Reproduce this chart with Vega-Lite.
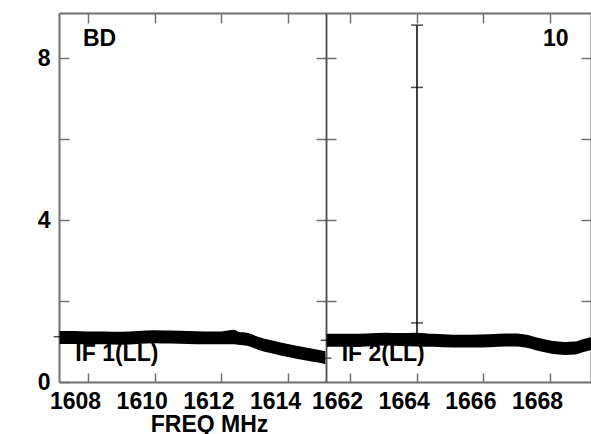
{
  "$schema": "https://vega.github.io/schema/vega-lite/v6.json",
  "background": "white",
  "padding": {"left": 37, "top": 12, "right": 0, "bottom": 0},
  "autosize": {"type": "pad"},
  "bounds": "flush",
  "spacing": 0,
  "config": {"view": {"stroke": null}},
  "datasets": {
    "bandL": [
      {"f": 1607.15, "hi": 1.26, "lo": 0.94},
      {"f": 1607.6, "hi": 1.26, "lo": 0.94},
      {"f": 1608.0, "hi": 1.25, "lo": 0.93},
      {"f": 1608.5, "hi": 1.25, "lo": 0.93},
      {"f": 1609.0, "hi": 1.24, "lo": 0.92},
      {"f": 1609.5, "hi": 1.26, "lo": 0.94},
      {"f": 1610.0, "hi": 1.28, "lo": 0.96},
      {"f": 1610.5, "hi": 1.27, "lo": 0.95},
      {"f": 1611.0, "hi": 1.26, "lo": 0.94},
      {"f": 1611.5, "hi": 1.25, "lo": 0.93},
      {"f": 1612.0, "hi": 1.25, "lo": 0.93},
      {"f": 1612.4, "hi": 1.29, "lo": 0.93},
      {"f": 1612.5, "hi": 1.24, "lo": 0.92},
      {"f": 1612.8, "hi": 1.21, "lo": 0.89},
      {"f": 1613.1, "hi": 1.12, "lo": 0.8},
      {"f": 1613.5, "hi": 1.03, "lo": 0.71},
      {"f": 1614.0, "hi": 0.94, "lo": 0.62},
      {"f": 1614.5, "hi": 0.86, "lo": 0.54},
      {"f": 1614.9, "hi": 0.8, "lo": 0.48},
      {"f": 1615.12, "hi": 0.76, "lo": 0.44}
    ],
    "bandR": [
      {"f": 1661.3, "hi": 1.19, "lo": 0.87},
      {"f": 1661.6, "hi": 1.19, "lo": 0.87},
      {"f": 1662.0, "hi": 1.19, "lo": 0.87},
      {"f": 1662.5, "hi": 1.2, "lo": 0.88},
      {"f": 1663.1, "hi": 1.22, "lo": 0.9},
      {"f": 1663.5, "hi": 1.21, "lo": 0.89},
      {"f": 1664.0, "hi": 1.22, "lo": 0.88},
      {"f": 1664.5, "hi": 1.19, "lo": 0.87},
      {"f": 1665.1, "hi": 1.17, "lo": 0.85},
      {"f": 1665.6, "hi": 1.17, "lo": 0.85},
      {"f": 1666.2, "hi": 1.18, "lo": 0.86},
      {"f": 1666.7, "hi": 1.2, "lo": 0.88},
      {"f": 1667.0, "hi": 1.2, "lo": 0.88},
      {"f": 1667.4, "hi": 1.15, "lo": 0.83},
      {"f": 1667.7, "hi": 1.08, "lo": 0.76},
      {"f": 1668.05, "hi": 1.02, "lo": 0.7},
      {"f": 1668.45, "hi": 0.99, "lo": 0.67},
      {"f": 1668.75, "hi": 1.0, "lo": 0.68},
      {"f": 1668.96, "hi": 1.05, "lo": 0.73},
      {"f": 1669.23, "hi": 1.11, "lo": 0.79}
    ],
    "capsL": [
      {"f": 1607.15, "v": 1.12},
      {"f": 1615.12, "v": 0.59}
    ],
    "capsR": [
      {"f": 1661.3, "v": 1.03},
      {"f": 1664.01, "v": 8.82},
      {"f": 1664.01, "v": 7.28},
      {"f": 1664.01, "v": 1.46}
    ],
    "spike": [
      {"f": 1664.01, "lo": 1.0, "hi": 8.82}
    ],
    "textL": [
      {"f": 1607.85, "v": 8.31, "label": "BD"},
      {"f": 1607.62, "v": 0.52, "label": "IF 1(LL)"}
    ],
    "textR": [
      {"f": 1667.79, "v": 8.31, "label": "10"},
      {"f": 1661.75, "v": 0.52, "label": "IF 2(LL)"}
    ]
  },
  "hconcat": [
    {
      "width": 267,
      "height": 369,
      "resolve": {
        "scale": {"x": "independent", "y": "independent"},
        "axis": {"x": "independent", "y": "independent"}
      },
      "layer": [
        {
          "data": {"name": "bandL"},
          "mark": {"type": "area", "color": "black", "interpolate": "monotone"},
          "encoding": {
            "x": {
              "field": "f", "type": "quantitative",
              "scale": {"domain": [1607.13, 1615.14], "nice": false, "zero": false},
              "axis": {
                "orient": "bottom", "values": [1608, 1610, 1612, 1614], "format": "d",
                "labelFont": "Liberation Sans", "labelFontWeight": "bold", "labelFontSize": 23, "labelColor": "black",
                "labelOffset": -13, "labelPadding": 35.5, "labelBaseline": "alphabetic",
                "labelFlush": false, "labelOverlap": false,
                "tickSize": -9, "tickColor": "#707070", "tickWidth": 1.5,
                "domainColor": "#707070", "domainWidth": 2, "grid": false,
                "title": "FREQ MHz", "titleFont": "Liberation Sans", "titleFontWeight": "bold",
                "titleFontSize": 23, "titleColor": "black", "titleX": 150, "titleY": 49,
                "titleAlign": "center", "titleBaseline": "alphabetic"
              }
            },
            "y": {
              "field": "hi", "type": "quantitative",
              "scale": {"domain": [0, 9.12], "nice": false, "zero": false},
              "axis": {
                "orient": "left", "values": [0, 2, 4, 6, 8], "format": "d",
                "labelExpr": "datum.value % 4 == 0 ? datum.label : ''",
                "labelFont": "Liberation Sans", "labelFontWeight": "bold", "labelFontSize": 23, "labelColor": "black",
                "labelPadding": 19, "labelOverlap": false, "labelFlush": false,
                "tickSize": -10, "tickColor": "#707070", "tickWidth": 1.5,
                "domainColor": "#707070", "domainWidth": 2, "grid": false, "title": null
              }
            },
            "y2": {"field": "lo"}
          }
        },
        {
          "data": {"name": "capsL"},
          "mark": {"type": "tick", "orient": "horizontal", "size": 12, "thickness": 1.5, "color": "black"},
          "encoding": {
            "x": {"field": "f", "type": "quantitative", "scale": {"domain": [1607.13, 1615.14], "nice": false, "zero": false}, "axis": null},
            "y": {"field": "v", "type": "quantitative", "scale": {"domain": [0, 9.12], "nice": false, "zero": false}, "axis": null}
          }
        },
        {
          "data": {"name": "textL"},
          "mark": {"type": "text", "align": "left", "baseline": "alphabetic", "font": "Liberation Sans", "fontWeight": "bold", "fontSize": 23, "color": "black"},
          "encoding": {
            "x": {
              "field": "f", "type": "quantitative",
              "scale": {"domain": [1607.13, 1615.14], "nice": false, "zero": false},
              "axis": {
                "orient": "top", "values": [1608, 1610, 1612, 1614], "labels": false,
                "tickSize": -10, "tickColor": "#707070", "tickWidth": 1.5,
                "domainColor": "#707070", "domainWidth": 2, "grid": false, "title": null
              }
            },
            "y": {
              "field": "v", "type": "quantitative",
              "scale": {"domain": [0, 9.12], "nice": false, "zero": false},
              "axis": {
                "orient": "right", "values": [2, 4, 6, 8], "labels": false,
                "tickSize": -10, "tickColor": "#707070", "tickWidth": 1.5,
                "domainColor": "#505050", "domainWidth": 1.5, "grid": false, "title": null
              }
            },
            "text": {"field": "label"}
          }
        }
      ]
    },
    {
      "width": 265,
      "height": 369,
      "resolve": {
        "scale": {"x": "independent", "y": "independent"},
        "axis": {"x": "independent", "y": "independent"}
      },
      "layer": [
        {
          "data": {"name": "bandR"},
          "mark": {"type": "area", "color": "black", "interpolate": "monotone"},
          "encoding": {
            "x": {
              "field": "f", "type": "quantitative",
              "scale": {"domain": [1661.28, 1669.23], "nice": false, "zero": false},
              "axis": {
                "orient": "bottom", "values": [1662, 1664, 1666, 1668], "format": "d",
                "labelFont": "Liberation Sans", "labelFontWeight": "bold", "labelFontSize": 23, "labelColor": "black",
                "labelOffset": -13, "labelPadding": 35.5, "labelBaseline": "alphabetic",
                "labelFlush": false, "labelOverlap": false,
                "tickSize": -9, "tickColor": "#707070", "tickWidth": 1.5,
                "domainColor": "#707070", "domainWidth": 2, "grid": false, "title": null
              }
            },
            "y": {
              "field": "hi", "type": "quantitative",
              "scale": {"domain": [0, 9.12], "nice": false, "zero": false},
              "axis": {
                "orient": "left", "values": [2, 4, 6, 8], "labels": false,
                "tickSize": -10, "tickColor": "#707070", "tickWidth": 1.5,
                "domainColor": "#505050", "domainWidth": 1.5, "grid": false, "title": null
              }
            },
            "y2": {"field": "lo"}
          }
        },
        {
          "data": {"name": "spike"},
          "mark": {"type": "rule", "color": "black", "strokeWidth": 1.5},
          "encoding": {
            "x": {"field": "f", "type": "quantitative", "scale": {"domain": [1661.28, 1669.23], "nice": false, "zero": false}, "axis": null},
            "y": {"field": "lo", "type": "quantitative", "scale": {"domain": [0, 9.12], "nice": false, "zero": false}, "axis": null},
            "y2": {"field": "hi"}
          }
        },
        {
          "data": {"name": "capsR"},
          "mark": {"type": "tick", "orient": "horizontal", "size": 12, "thickness": 1.5, "color": "black"},
          "encoding": {
            "x": {"field": "f", "type": "quantitative", "scale": {"domain": [1661.28, 1669.23], "nice": false, "zero": false}, "axis": null},
            "y": {"field": "v", "type": "quantitative", "scale": {"domain": [0, 9.12], "nice": false, "zero": false}, "axis": null}
          }
        },
        {
          "data": {"name": "textR"},
          "mark": {"type": "text", "align": "left", "baseline": "alphabetic", "font": "Liberation Sans", "fontWeight": "bold", "fontSize": 23, "color": "black"},
          "encoding": {
            "x": {
              "field": "f", "type": "quantitative",
              "scale": {"domain": [1661.28, 1669.23], "nice": false, "zero": false},
              "axis": {
                "orient": "top", "values": [1662, 1664, 1666, 1668], "labels": false,
                "tickSize": -10, "tickColor": "#707070", "tickWidth": 1.5,
                "domainColor": "#707070", "domainWidth": 2, "grid": false, "title": null
              }
            },
            "y": {
              "field": "v", "type": "quantitative",
              "scale": {"domain": [0, 9.12], "nice": false, "zero": false},
              "axis": {
                "orient": "right", "values": [2, 4, 6, 8], "labels": false,
                "tickSize": -10, "tickColor": "#707070", "tickWidth": 1.5,
                "domainColor": "#707070", "domainWidth": 2, "grid": false, "title": null
              }
            },
            "text": {"field": "label"}
          }
        }
      ]
    }
  ]
}
